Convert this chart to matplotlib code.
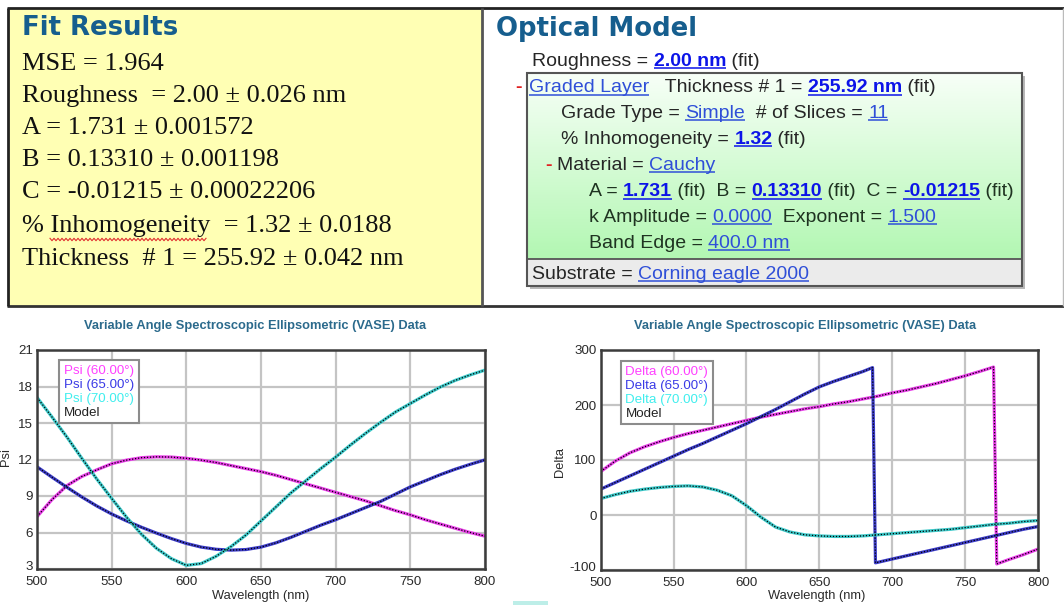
import matplotlib.pyplot as plt
import numpy as np
from matplotlib.patches import Rectangle
from matplotlib.transforms import ScaledTranslation

# ---- Psi spectra (deg), 500-800 nm in 10 nm steps ----
psi_wl = list(range(500, 801, 10))
psi_60 = [7.3, 8.7, 9.85, 10.6, 11.15, 11.65, 11.95, 12.15, 12.22, 12.2, 12.1,
          11.95, 11.75, 11.5, 11.25, 11.0, 10.7, 10.35, 10.0, 9.65, 9.3,
          8.95, 8.6, 8.2, 7.8, 7.45, 7.05, 6.7, 6.35, 6.0, 5.7]
psi_65 = [11.4, 10.55, 9.72, 8.92, 8.18, 7.52, 6.95, 6.43, 5.95, 5.5, 5.1,
          4.8, 4.62, 4.55, 4.6, 4.8, 5.15, 5.6, 6.1, 6.6, 7.05,
          7.55, 8.05, 8.55, 9.15, 9.75, 10.25, 10.75, 11.2, 11.6, 11.97]
psi_70 = [17.1, 15.5, 13.85, 12.1, 10.4, 8.8, 7.25, 5.85, 4.7, 3.85, 3.3,
          3.45, 4.05, 4.85, 5.8, 6.95, 8.1, 9.25, 10.25, 11.25, 12.2,
          13.2, 14.15, 15.05, 15.9, 16.6, 17.3, 17.95, 18.5, 18.95, 19.35]

# ---- Delta spectra (deg); phase wraps from 270 to -90 ----
delta60_wl = list(range(500, 761, 10)) + [769.5, 771.7, 780, 790, 800]
delta_60 = [79, 98, 113, 124, 133, 141, 148, 154, 160, 166, 172, 178, 183,
            188, 193, 197, 202, 206, 211, 216, 222, 227, 233, 239, 246, 253,
            261, 269, -89, -81, -72, -62]
delta65_wl = list(range(500, 681, 10)) + [686.5, 688.5] + list(range(700, 801, 10))
delta_65 = [47, 59, 71, 83, 95, 107, 119, 130, 142, 154, 166, 179, 192, 206,
            220, 233, 243, 252, 261, 268, -87, -80, -74, -68, -62, -56, -50,
            -44, -38, -32, -26, -21]
delta70_wl = list(range(500, 801, 10))
delta_70 = [30, 37, 43, 47, 50, 52, 53, 51, 45, 35, 17, -4, -22, -31, -36,
            -38, -39, -39, -38, -36, -34, -32, -30, -28, -26, -23, -20, -17,
            -15, -12, -10]

angles = ['60.00°', '65.00°', '70.00°']

fit_lines = [
    'MSE = 1.964',
    'Roughness  = 2.00 ± 0.026 nm',
    'A = 1.731 ± 0.001572',
    'B = 0.13310 ± 0.001198',
    'C = -0.01215 ± 0.00022206',
    '% Inhomogeneity  = 1.32 ± 0.0188',
    'Thickness  # 1 = 255.92 ± 0.042 nm',
]

# optical model rows: (x, baseline, [(text, style), ...])
model_rows = [
    (532, 66, [('Roughness = ', 'n'), ('2.00 nm', 'b'), (' (fit)', 'n')]),
    (529, 92.5, [('Graded Layer', 'l'), ('   Thickness # 1 = ', 'n'),
                 ('255.92 nm', 'b'), (' (fit)', 'n')]),
    (561, 118, [('Grade Type = ', 'n'), ('Simple', 'l'),
                ('  # of Slices = ', 'n'), ('11', 'l')]),
    (561, 144, [('% Inhomogeneity = ', 'n'), ('1.32', 'b'), (' (fit)', 'n')]),
    (557, 170, [('Material = ', 'n'), ('Cauchy', 'l')]),
    (589, 196.5, [('A = ', 'g'), ('1.731', 'b'), (' (fit)  B = ', 'g'),
                  ('0.13310', 'b'), (' (fit)  C = ', 'g'),
                  ('-0.01215', 'b'), (' (fit)', 'g')]),
    (589, 222, [('k Amplitude = ', 'g'), ('0.0000', 'l'),
                ('  Exponent = ', 'g'), ('1.500', 'l')]),
    (589, 248, [('Band Edge = ', 'g'), ('400.0 nm', 'l')]),
    (532, 279, [('Substrate = ', 'n'), ('Corning eagle 2000', 'l')]),
]

STYLES = {
    'n': ('#262626', 'normal', False),
    'g': ('#1f3321', 'normal', False),
    'b': ('#0c14e8', 'bold', True),
    'l': ('#2f4fd8', 'normal', True),
}

plt.rcParams['font.family'] = 'Liberation Sans'
plt.rcParams['axes.unicode_minus'] = False

W, H = 1064, 605
fig = plt.figure(figsize=(W / 100, H / 100), dpi=100, facecolor='white')

# full-figure layer in pixel units for the report panels
bg = fig.add_axes([0, 0, 1, 1])
bg.set_xlim(0, W)
bg.set_ylim(H, 0)
bg.axis('off')
renderer = fig.canvas.get_renderer()


def text_width(s, **kw):
    t = bg.text(0, 0, s + '|', **kw)
    bar = bg.text(0, 0, '|', **kw)
    w = t.get_window_extent(renderer).width - bar.get_window_extent(renderer).width
    t.remove()
    bar.remove()
    return w


# Fit Results panel
bg.add_patch(Rectangle((8, 8), 474, 298, facecolor='#ffffb4', edgecolor='none'))
for xs, ys, c, lw in [([7, 1064], [8, 8], '#222222', 2),
                      ([7, 1064], [306, 306], '#333333', 2),
                      ([8, 8], [8, 306], '#222222', 2),
                      ([482, 482], [8, 306], '#555555', 2),
                      ([1063, 1063], [8, 306], '#bbbbbb', 1)]:
    bg.plot(xs, ys, color=c, lw=lw, solid_capstyle='butt')

title_kw = dict(fontsize=18.7, fontweight='bold', color='#165e8e',
                family='DejaVu Sans', va='baseline', ha='left')
bg.text(22, 35, 'Fit Results', **title_kw)
bg.text(496, 36, 'Optical Model', **title_kw)

fit_base = [70, 101.7, 134, 165.7, 198.3, 231.7, 265]
for line, yb in zip(fit_lines, fit_base):
    bg.text(22, yb, line, fontsize=19, family='Liberation Serif',
            color='#111111', va='baseline', ha='left')

# spell-check squiggle under "Inhomogeneity"
sq_x = np.arange(50, 208, 2)
sq_y = 239.5 + np.where(np.arange(len(sq_x)) % 2 == 0, -1.2, 1.2)
bg.plot(sq_x, sq_y, color='#e03030', lw=0.8)

# Optical Model layer box
bg.add_patch(Rectangle((530, 76), 495, 213, facecolor='#b8b8b8', edgecolor='none'))
grad = np.linspace(0, 1, 120)[:, None]
top_c = np.array([0.97, 1.0, 0.97])
bot_c = np.array([0.70, 0.97, 0.70])
bg.imshow(top_c + grad[..., None] * (bot_c - top_c),
          extent=(527, 1022, 259, 73), aspect='auto', zorder=2)
bg.add_patch(Rectangle((527, 259), 495, 27, facecolor='#ebebeb', edgecolor='none', zorder=2))
bg.add_patch(Rectangle((527, 73), 495, 213, facecolor='none', edgecolor='#555555',
                       lw=1.5, zorder=3))
bg.plot([527, 1022], [259, 259], color='#555555', lw=1.3, zorder=3)

ROW_SIZE = 14.0
for x, yb, parts in model_rows:
    for s, kind in parts:
        color, weight, link = STYLES[kind]
        kw = dict(fontsize=ROW_SIZE, color=color, fontweight=weight)
        bg.text(x, yb, s, va='baseline', ha='left', zorder=4, **kw)
        w = text_width(s, **kw)
        if link:
            bg.plot([x, x + w], [yb + 2.3, yb + 2.3], color=color, lw=1.1,
                    solid_capstyle='butt', zorder=4)
        x += w

# collapse markers
for x, yb in [(519, 92.5), (549, 170)]:
    bg.text(x, yb, '-', fontsize=ROW_SIZE, color='#e02020', fontweight='bold',
            va='baseline', ha='center', zorder=4)

bg.add_patch(Rectangle((513, 601), 35, 4, facecolor='#bdeee8', edgecolor='none'))

# ---- VASE spectra ----
line_colors = ['#e83ee8', '#3c3cc8', '#3cc8c8']
text_colors = ['#ff40ff', '#3a3ae6', '#40eeee', '#222222']
chart_title = 'Variable Angle Spectroscopic Ellipsometric (VASE) Data'


def spectra_panel(rect, series, name, ylim, yticks, anchor):
    ax = fig.add_axes(rect)
    handles = []
    for (wl, vals), c in zip(series, line_colors):
        h, = ax.plot(wl, vals, color=c, lw=2.3, solid_joinstyle='round')
        handles.append(h)
    for wl, vals in series:
        model, = ax.plot(wl, vals, color='black', lw=0.9, linestyle=(0, (1, 1.4)))
    handles.append(model)

    ax.set_xlim(500, 800)
    ax.set_ylim(*ylim)
    ax.set_xticks(range(500, 801, 50))
    ax.set_yticks(yticks)
    ax.grid(True, color='#c4c4c4', lw=1.6)
    ax.set_axisbelow(True)
    ax.tick_params(length=0, labelsize=9.6, labelcolor='#2a2a2a')
    ax.tick_params(axis='x', pad=5)
    ax.tick_params(axis='y', pad=3)
    for sp in ax.spines.values():
        sp.set_color('#3c3c3c')
        sp.set_linewidth(1.8)

    # lowest y label sits a little above the corner, clear of the first x label
    low = ax.yaxis.get_major_ticks()[0].label1
    low.set_transform(low.get_transform() + ScaledTranslation(0, 2.5 / 72, fig.dpi_scale_trans))

    labels = [f'{name} ({a})' for a in angles] + ['Model']
    leg = ax.legend(handles, labels, loc='upper left', bbox_to_anchor=anchor,
                    borderaxespad=0, handlelength=0, handletextpad=0,
                    fancybox=False, framealpha=1, edgecolor='#8c8c8c',
                    fontsize=9.6, labelspacing=0.12, borderpad=0.35)
    leg.get_frame().set_linewidth(1.5)
    for h in leg.legend_handles:
        h.set_visible(False)
    for t, c in zip(leg.get_texts(), text_colors):
        t.set_color(c)
    return ax


spectra_panel([37 / W, 36 / H, 448 / W, 219 / H],
              [(psi_wl, psi_60), (psi_wl, psi_65), (psi_wl, psi_70)],
              'Psi', (3, 21), range(3, 22, 3), (0.049, 0.955))
spectra_panel([600.7 / W, 35 / H, 437.3 / W, 220 / H],
              [(delta60_wl, delta_60), (delta65_wl, delta_65), (delta70_wl, delta_70)],
              'Delta', (-100, 300), range(-100, 301, 100), (0.046, 0.95))

label_kw = dict(fontsize=9.3, color='#2a2a2a', ha='center', va='center')
title_small = dict(fontsize=9.3, fontweight='bold', color='#2b6a8c',
                   ha='center', va='center')
bg.text(255, 326, chart_title, **title_small)
bg.text(805, 326, chart_title, **title_small)
bg.text(261, 596, 'Wavelength (nm)', **label_kw)
bg.text(817, 596, 'Wavelength (nm)', **label_kw)
bg.text(6, 457, 'Psi', rotation=90, **label_kw)
bg.text(560, 462, 'Delta', rotation=90, **label_kw)

fig.savefig('out.png', dpi=100, facecolor='white')
